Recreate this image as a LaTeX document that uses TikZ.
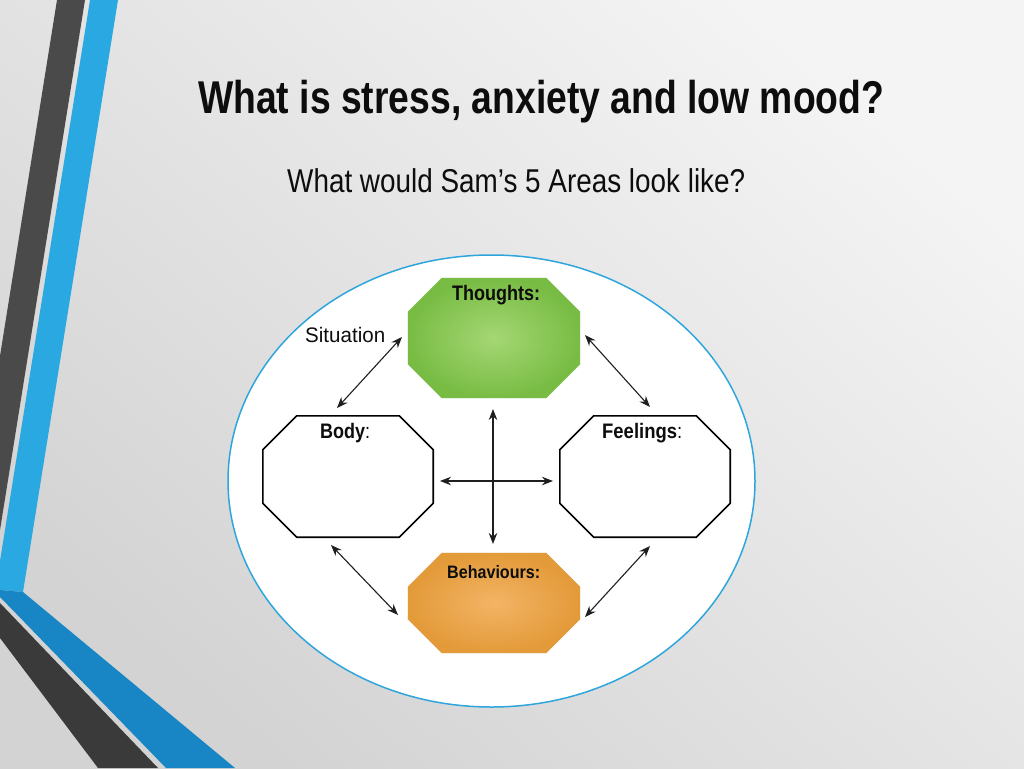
\documentclass[tikz,border=0pt]{standalone}
\usepackage{fontspec}
\setmainfont{Liberation Sans}
\usepackage{graphicx}
\usetikzlibrary{arrows.meta,calc}
\definecolor{bgl}{HTML}{F4F4F4}
\definecolor{bgd}{HTML}{D3D3D3}
\definecolor{stripedark}{HTML}{4A4A4A}
\definecolor{stripeblue}{HTML}{2AA8E2}
\definecolor{stripeblue2}{HTML}{1886C4}
\definecolor{stripedark2}{HTML}{3A3A3A}
\definecolor{ringblue}{HTML}{2EA6DD}
\definecolor{greenin}{HTML}{A5D774}
\definecolor{greenout}{HTML}{78BC44}
\definecolor{orangein}{HTML}{F3B465}
\definecolor{orangeout}{HTML}{E39A39}
\newcommand\fitw[2]{\resizebox{#1}{\height}{#2}}
\newcommand\octo[2]{%
  \path[#2] ([xshift=34pt]#1.north west) -- ([xshift=-34pt]#1.north east)
   -- ([yshift=-34pt]#1.north east) -- ([yshift=34pt]#1.south east)
   -- ([xshift=-34pt]#1.south east) -- ([xshift=34pt]#1.south west)
   -- ([yshift=34pt]#1.south west) -- ([yshift=-34pt]#1.north west) -- cycle;}
\tikzset{
  box/.style={rectangle, draw=none, inner sep=0pt, minimum width=172pt},
  txt/.style={inner sep=0pt, anchor=base west, text=black!95},
  dbl/.style={{Stealth[length=11pt,width=8.5pt]}-{Stealth[length=11pt,width=8.5pt]}, line width=1.1pt, black!88},
  plainoct/.style={draw=black, line width=1.6pt, fill=white, line join=miter},
  shadowoct/.style={fill=black!35, opacity=0.45}
}
\begin{document}
\begin{tikzpicture}[x=1pt,y=-1pt]
\useasboundingbox (0,0) rectangle (1024,768);
% background
\shade[top color=bgl, bottom color=bgd, shading angle=-40] (0,0) rectangle (1024,768);
% left stripes
\fill[stripedark] (57,0) -- (85,0) -- (0,530) -- (0,356) -- cycle;
\fill[stripeblue] (90,0) -- (118,0) -- (23,592) -- (0,590) -- (0,561) -- cycle;
\fill[stripeblue2] (0,590) -- (23,592) -- (235,768) -- (166,768) -- (0,597) -- cycle;
\fill[stripedark2] (0,603) -- (158,768) -- (98,768) -- (0,638) -- cycle;
% title
\node[txt] (title) at (198,113) {\fontsize{46}{50}\selectfont\bfseries\fitw{686pt}{What is stress, anxiety and low mood?}};
\node[txt] (subtitle) at (287,192) {\fontsize{33}{38}\selectfont\fitw{458pt}{What would Sam’s 5 Areas look like?}};
% ring
\draw[ringblue, line width=1.5pt, fill=white] (491.5,481) ellipse [x radius=263.5, y radius=226];
% boxes
\node[box, minimum height=120pt] (thoughts) at (494,338) {};
\node[box, minimum height=121pt, minimum width=170pt] (body) at (348,476.5) {};
\node[box, minimum height=121pt, minimum width=170pt] (feelings) at (645,476.5) {};
\node[box, minimum height=100pt] (behaviours) at (494,603) {};
\begin{scope}[yshift=-3pt]
\octo{thoughts}{shadowoct}
\octo{behaviours}{shadowoct}
\end{scope}
\octo{thoughts}{inner color=greenin, outer color=greenout}
\octo{behaviours}{inner color=orangein, outer color=orangeout}
\octo{body}{plainoct}
\octo{feelings}{plainoct}
% labels
\node[txt] (lt) at (452,300) {\fontsize{21}{24}\selectfont\bfseries\fitw{88pt}{Thoughts:}};
\node[txt] (lb) at (320,438) {\fontsize{21}{24}\selectfont\fitw{50pt}{\textbf{Body}:}};
\node[txt] (lf) at (602,438) {\fontsize{21}{24}\selectfont\fitw{80pt}{\textbf{Feelings}:}};
\node[txt] (lbh) at (447,578) {\fontsize{18}{22}\selectfont\bfseries\fitw{93pt}{Behaviours:}};
\node[txt] (sit) at (305,342) {\fontsize{21}{24}\selectfont\fitw{80pt}{Situation}};
% arrow end coordinates
\coordinate (s1) at (337,408);
\coordinate (s2) at (402,337);
\coordinate (f1) at (585,335);
\coordinate (f2) at (650,407);
\coordinate (b1) at (331,545);
\coordinate (b2) at (398,615);
\coordinate (h1) at (650,546);
\coordinate (h2) at (585,617);
\coordinate (v1) at (493,409);
\coordinate (v2) at (493,544);
\coordinate (x1) at (440,481);
\coordinate (x2) at (553,481);
\draw[dbl] (s1) -- (s2);
\draw[dbl] (f1) -- (f2);
\draw[dbl] (b1) -- (b2);
\draw[dbl] (h1) -- (h2);
\draw[dbl] (v1) -- (v2);
\draw[dbl] (x1) -- (x2);
\end{tikzpicture}
\end{document}
